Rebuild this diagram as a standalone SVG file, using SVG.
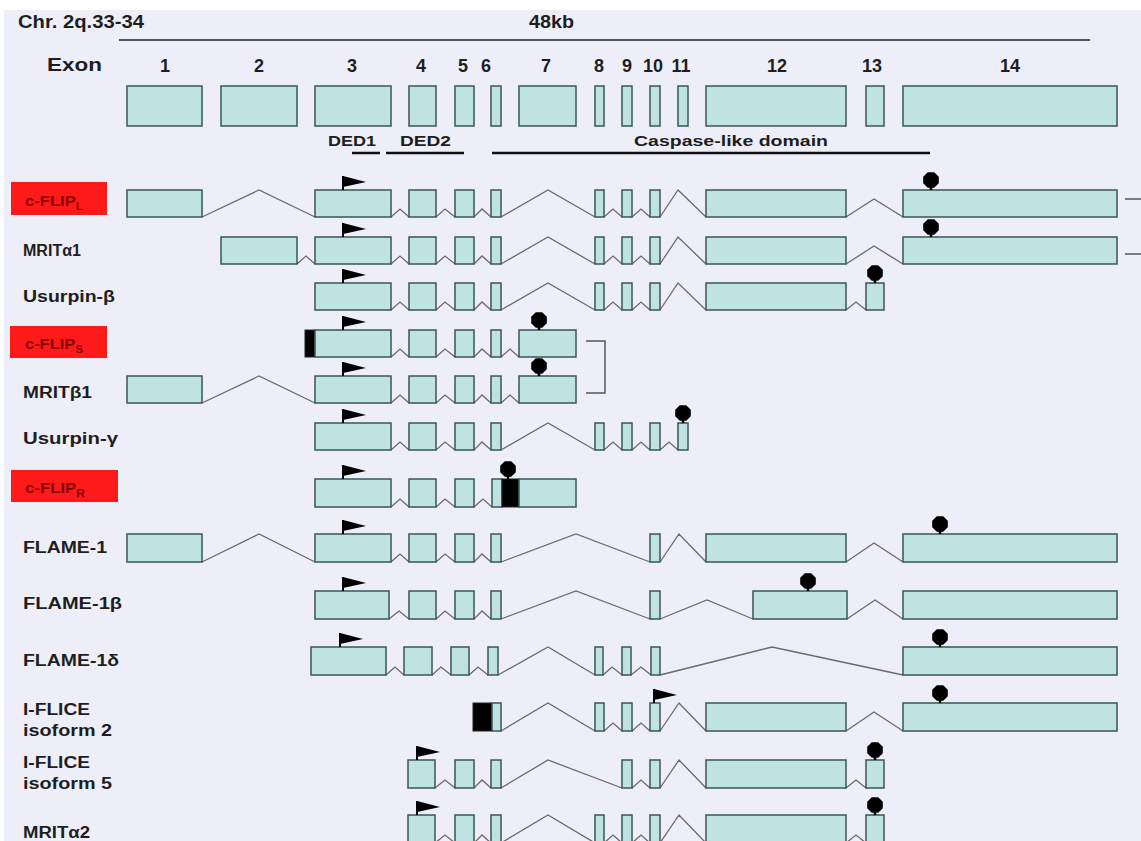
<svg xmlns="http://www.w3.org/2000/svg" width="1141" height="841" viewBox="0 0 1141 841">
<style>
.ex{fill:#bfe3e2;stroke:#3b5656;stroke-width:1.5}
.bk{fill:#000;stroke:#222;stroke-width:1}
.in{fill:none;stroke:#6a6a6a;stroke-width:1.3;stroke-linejoin:miter}
.t{font-family:"Liberation Sans",Arial,sans-serif;font-weight:bold;fill:#1e1e1e}
.hd{font-size:19px}
.num{font-size:18px;text-anchor:middle}
.dom{font-size:15px}
.lb{font-size:16px}
.red{fill:#ff1a1a}
.rt{font-family:"Liberation Sans",Arial,sans-serif;font-weight:bold;fill:#8a0000;font-size:14px}
.rs{font-size:10px}
.ln{stroke:#555;stroke-width:2;fill:none}
.dl{stroke:#111;stroke-width:2.5;fill:none}
.br{stroke:#555;stroke-width:1.5;fill:none}
</style>
<defs>
<g id="flag"><line x1="0" y1="0" x2="0" y2="-14" stroke="#000" stroke-width="2"/><path d="M0,-14 L23,-8 L0,-3 Z" fill="#000"/></g>
<g id="stop"><line x1="0" y1="-3" x2="0" y2="0" stroke="#000" stroke-width="2.5"/><polygon transform="translate(0,-10)" points="3.2,-7.8 7.8,-3.2 7.8,3.2 3.2,7.8 -3.2,7.8 -7.8,3.2 -7.8,-3.2 -3.2,-7.8" fill="#000"/></g>
</defs>
<rect x="0" y="0" width="1141" height="841" fill="#ffffff"/>
<rect x="4" y="10" width="1137" height="831" fill="#eeeef8"/>

<g id="header">
<text class="t hd" x="18" y="28" textLength="126" lengthAdjust="spacingAndGlyphs">Chr. 2q.33-34</text>
<text class="t hd" x="529" y="28" textLength="45" lengthAdjust="spacingAndGlyphs">48kb</text>
<line class="ln" x1="119" y1="40" x2="1090" y2="40"/>
<text class="t hd" x="47" y="71" textLength="55" lengthAdjust="spacingAndGlyphs">Exon</text>
<text class="t num" x="165" y="72">1</text>
<text class="t num" x="259" y="72">2</text>
<text class="t num" x="352" y="72">3</text>
<text class="t num" x="421" y="72">4</text>
<text class="t num" x="463" y="72">5</text>
<text class="t num" x="486" y="72">6</text>
<text class="t num" x="546" y="72">7</text>
<text class="t num" x="599" y="72">8</text>
<text class="t num" x="627" y="72">9</text>
<text class="t num" x="653" y="72">10</text>
<text class="t num" x="681" y="72">11</text>
<text class="t num" x="777" y="72">12</text>
<text class="t num" x="872" y="72">13</text>
<text class="t num" x="1010" y="72">14</text>
</g>

<g id="exon-map">
<rect class="ex" x="127" y="86" width="75" height="40"/>
<rect class="ex" x="221" y="86" width="76" height="40"/>
<rect class="ex" x="315" y="86" width="76" height="40"/>
<rect class="ex" x="409" y="86" width="27" height="40"/>
<rect class="ex" x="455" y="86" width="19" height="40"/>
<rect class="ex" x="491" y="86" width="10" height="40"/>
<rect class="ex" x="519" y="86" width="57" height="40"/>
<rect class="ex" x="595" y="86" width="9" height="40"/>
<rect class="ex" x="622" y="86" width="10" height="40"/>
<rect class="ex" x="650" y="86" width="10" height="40"/>
<rect class="ex" x="678" y="86" width="10" height="40"/>
<rect class="ex" x="706" y="86" width="140" height="40"/>
<rect class="ex" x="866" y="86" width="18" height="40"/>
<rect class="ex" x="903" y="86" width="214" height="40"/>
</g>

<g id="domains">
<text class="t dom" x="328" y="146" textLength="48" lengthAdjust="spacingAndGlyphs">DED1</text>
<text class="t dom" x="400" y="146" textLength="51" lengthAdjust="spacingAndGlyphs">DED2</text>
<text class="t dom" x="634" y="146" textLength="194" lengthAdjust="spacingAndGlyphs">Caspase-like domain</text>
<line class="dl" x1="352" y1="153" x2="380" y2="153"/>
<line class="dl" x1="386" y1="153" x2="464" y2="153"/>
<line class="dl" x1="492" y1="153" x2="930" y2="153"/>
</g>

<g id="connectors">
<path class="in" d="M202,217 L259,190 L315,217 M391,217 L400,209 L409,217 M436,217 L445,209 L455,217 M474,217 L482,209 L491,217 M501,217 L548,190 L595,217 M604,217 L613,209 L622,217 M632,217 L641,209 L650,217 M660,217 L678,190 L706,217 M846,217 L874,199 L903,217"/>
<path class="in" d="M297,264 L306,256 L315,264 M391,264 L400,256 L409,264 M436,264 L445,256 L455,264 M474,264 L482,256 L491,264 M501,264 L548,237 L595,264 M604,264 L613,256 L622,264 M632,264 L641,256 L650,264 M660,264 L678,237 L706,264 M846,264 L874,246 L903,264"/>
<path class="in" d="M391,310 L400,302 L409,310 M436,310 L445,302 L455,310 M474,310 L482,302 L491,310 M501,310 L548,283 L595,310 M604,310 L613,302 L622,310 M632,310 L641,302 L650,310 M660,310 L678,283 L706,310 M846,310 L856,302 L866,310"/>
<path class="in" d="M391,357 L400,349 L409,357 M436,357 L445,349 L455,357 M474,357 L482,349 L491,357 M501,357 L510,349 L519,357"/>
<path class="in" d="M202,403 L259,376 L315,403 M391,403 L400,395 L409,403 M436,403 L445,395 L455,403 M474,403 L482,395 L491,403 M501,403 L510,395 L519,403"/>
<path class="in" d="M391,450 L400,442 L409,450 M436,450 L445,442 L455,450 M474,450 L482,442 L491,450 M501,450 L548,423 L595,450 M604,450 L613,442 L622,450 M632,450 L641,442 L650,450 M660,450 L669,442 L678,450"/>
<path class="in" d="M391,507 L400,499 L409,507 M436,507 L445,499 L455,507 M474,507 L483,499 L492,507"/>
<path class="in" d="M202,562 L259,534 L315,562 M391,562 L400,554 L409,562 M436,562 L445,554 L455,562 M474,562 L482,554 L491,562 M501,562 L576,534 L650,562 M660,562 L679,534 L706,562 M846,562 L874,543 L903,562"/>
<path class="in" d="M389,619 L399,611 L409,619 M436,619 L445,611 L455,619 M474,619 L482,611 L491,619 M501,619 L576,591 L650,619 M660,619 L707,600 L753,619 M847,619 L875,600 L903,619"/>
<path class="in" d="M386,675 L395,667 L404,675 M432,675 L441,667 L451,675 M469,675 L478,667 L488,675 M498,675 L548,647 L595,675 M603,675 L612,667 L622,675 M631,675 L641,667 L651,675 M660,675 L772,647 L903,675"/>
<path class="in" d="M501,731 L548,703 L595,731 M604,731 L613,723 L622,731 M632,731 L641,723 L650,731 M660,731 L679,703 L706,731 M846,731 L874,712 L903,731"/>
<path class="in" d="M435,788 L445,780 L455,788 M474,788 L482,780 L491,788 M501,788 L548,760 L622,788 M632,788 L641,780 L650,788 M660,788 L679,760 L706,788 M846,788 L856,780 L866,788"/>
<path class="in" d="M435,843 L445,835 L455,843 M474,843 L482,835 L491,843 M501,843 L548,815 L595,843 M604,843 L613,835 L622,843 M632,843 L641,835 L650,843 M660,843 L679,815 L706,843 M846,843 L856,835 L866,843"/>
<path class="br" d="M1125,199 H1141 M1125,254 H1141"/>
<path class="br" d="M586,341 H605 V393 H586"/>
</g>

<g id="row-cFLIPL">
<rect class="red" x="11" y="182" width="96" height="33"/>
<text class="rt" x="25" y="206" textLength="58" lengthAdjust="spacingAndGlyphs">c-FLIP<tspan class="rs" dy="4">L</tspan></text>
<rect class="ex" x="127" y="190" width="75" height="27"/>
<rect class="ex" x="315" y="190" width="76" height="27"/>
<rect class="ex" x="409" y="190" width="27" height="27"/>
<rect class="ex" x="455" y="190" width="19" height="27"/>
<rect class="ex" x="491" y="190" width="10" height="27"/>
<rect class="ex" x="595" y="190" width="9" height="27"/>
<rect class="ex" x="622" y="190" width="10" height="27"/>
<rect class="ex" x="650" y="190" width="10" height="27"/>
<rect class="ex" x="706" y="190" width="140" height="27"/>
<rect class="ex" x="903" y="190" width="214" height="27"/>
<use href="#flag" x="343" y="190"/>
<use href="#stop" x="931" y="190"/>
</g>

<g id="row-MRITa1">
<text class="t lb" x="23" y="256" textLength="58" lengthAdjust="spacingAndGlyphs">MRITα1</text>
<rect class="ex" x="221" y="237" width="76" height="27"/>
<rect class="ex" x="315" y="237" width="76" height="27"/>
<rect class="ex" x="409" y="237" width="27" height="27"/>
<rect class="ex" x="455" y="237" width="19" height="27"/>
<rect class="ex" x="491" y="237" width="10" height="27"/>
<rect class="ex" x="595" y="237" width="9" height="27"/>
<rect class="ex" x="622" y="237" width="10" height="27"/>
<rect class="ex" x="650" y="237" width="10" height="27"/>
<rect class="ex" x="706" y="237" width="140" height="27"/>
<rect class="ex" x="903" y="237" width="214" height="27"/>
<use href="#flag" x="343" y="237"/>
<use href="#stop" x="931" y="237"/>
</g>

<g id="row-UsurpinB">
<text class="t lb" x="23" y="302" textLength="92" lengthAdjust="spacingAndGlyphs">Usurpin-β</text>
<rect class="ex" x="315" y="283" width="76" height="27"/>
<rect class="ex" x="409" y="283" width="27" height="27"/>
<rect class="ex" x="455" y="283" width="19" height="27"/>
<rect class="ex" x="491" y="283" width="10" height="27"/>
<rect class="ex" x="595" y="283" width="9" height="27"/>
<rect class="ex" x="622" y="283" width="10" height="27"/>
<rect class="ex" x="650" y="283" width="10" height="27"/>
<rect class="ex" x="706" y="283" width="140" height="27"/>
<rect class="ex" x="866" y="283" width="18" height="27"/>
<use href="#flag" x="343" y="283"/>
<use href="#stop" x="875" y="283"/>
</g>

<g id="row-cFLIPS">
<rect class="red" x="10" y="326" width="97" height="32"/>
<text class="rt" x="25" y="349" textLength="58" lengthAdjust="spacingAndGlyphs">c-FLIP<tspan class="rs" dy="4">S</tspan></text>
<rect class="bk" x="305" y="330" width="10" height="27"/>
<rect class="ex" x="315" y="330" width="76" height="27"/>
<rect class="ex" x="409" y="330" width="27" height="27"/>
<rect class="ex" x="455" y="330" width="19" height="27"/>
<rect class="ex" x="491" y="330" width="10" height="27"/>
<rect class="ex" x="519" y="330" width="57" height="27"/>
<use href="#flag" x="343" y="330"/>
<use href="#stop" x="539" y="330"/>
</g>

<g id="row-MRITb1">
<text class="t lb" x="23" y="398" textLength="69" lengthAdjust="spacingAndGlyphs">MRITβ1</text>
<rect class="ex" x="127" y="376" width="75" height="27"/>
<rect class="ex" x="315" y="376" width="76" height="27"/>
<rect class="ex" x="409" y="376" width="27" height="27"/>
<rect class="ex" x="455" y="376" width="19" height="27"/>
<rect class="ex" x="491" y="376" width="10" height="27"/>
<rect class="ex" x="519" y="376" width="57" height="27"/>
<use href="#flag" x="343" y="376"/>
<use href="#stop" x="539" y="376"/>
</g>

<g id="row-UsurpinG">
<text class="t lb" x="23" y="444" textLength="95" lengthAdjust="spacingAndGlyphs">Usurpin-γ</text>
<rect class="ex" x="315" y="423" width="76" height="27"/>
<rect class="ex" x="409" y="423" width="27" height="27"/>
<rect class="ex" x="455" y="423" width="19" height="27"/>
<rect class="ex" x="491" y="423" width="10" height="27"/>
<rect class="ex" x="595" y="423" width="9" height="27"/>
<rect class="ex" x="622" y="423" width="10" height="27"/>
<rect class="ex" x="650" y="423" width="10" height="27"/>
<rect class="ex" x="678" y="423" width="10" height="27"/>
<use href="#flag" x="343" y="423"/>
<use href="#stop" x="683" y="423"/>
</g>

<g id="row-cFLIPR">
<rect class="red" x="11" y="470" width="107" height="32"/>
<text class="rt" x="25" y="493" textLength="60" lengthAdjust="spacingAndGlyphs">c-FLIP<tspan class="rs" dy="4">R</tspan></text>
<rect class="ex" x="315" y="479" width="76" height="28"/>
<rect class="ex" x="409" y="479" width="27" height="28"/>
<rect class="ex" x="455" y="479" width="19" height="28"/>
<rect class="ex" x="492" y="479" width="10" height="28"/>
<rect class="bk" x="502" y="479" width="17" height="28"/>
<rect class="ex" x="519" y="479" width="57" height="28"/>
<use href="#flag" x="343" y="479"/>
<use href="#stop" x="508" y="479"/>
</g>

<g id="row-FLAME1">
<text class="t lb" x="23" y="553" textLength="84" lengthAdjust="spacingAndGlyphs">FLAME-1</text>
<rect class="ex" x="127" y="534" width="75" height="28"/>
<rect class="ex" x="315" y="534" width="76" height="28"/>
<rect class="ex" x="409" y="534" width="27" height="28"/>
<rect class="ex" x="455" y="534" width="19" height="28"/>
<rect class="ex" x="491" y="534" width="10" height="28"/>
<rect class="ex" x="650" y="534" width="10" height="28"/>
<rect class="ex" x="706" y="534" width="140" height="28"/>
<rect class="ex" x="903" y="534" width="214" height="28"/>
<use href="#flag" x="343" y="534"/>
<use href="#stop" x="940" y="534"/>
</g>

<g id="row-FLAME1b">
<text class="t lb" x="23" y="609" textLength="99" lengthAdjust="spacingAndGlyphs">FLAME-1β</text>
<rect class="ex" x="315" y="591" width="74" height="28"/>
<rect class="ex" x="409" y="591" width="27" height="28"/>
<rect class="ex" x="455" y="591" width="19" height="28"/>
<rect class="ex" x="491" y="591" width="10" height="28"/>
<rect class="ex" x="650" y="591" width="10" height="28"/>
<rect class="ex" x="753" y="591" width="94" height="28"/>
<rect class="ex" x="903" y="591" width="214" height="28"/>
<use href="#flag" x="343" y="591"/>
<use href="#stop" x="808" y="591"/>
</g>

<g id="row-FLAME1d">
<text class="t lb" x="23" y="666" textLength="96" lengthAdjust="spacingAndGlyphs">FLAME-1δ</text>
<rect class="ex" x="311" y="647" width="75" height="28"/>
<rect class="ex" x="404" y="647" width="28" height="28"/>
<rect class="ex" x="451" y="647" width="18" height="28"/>
<rect class="ex" x="488" y="647" width="10" height="28"/>
<rect class="ex" x="595" y="647" width="8" height="28"/>
<rect class="ex" x="622" y="647" width="9" height="28"/>
<rect class="ex" x="651" y="647" width="9" height="28"/>
<rect class="ex" x="903" y="647" width="214" height="28"/>
<use href="#flag" x="340" y="647"/>
<use href="#stop" x="940" y="647"/>
</g>

<g id="row-IFLICE2">
<text class="t lb" x="23" y="715" textLength="67" lengthAdjust="spacingAndGlyphs">I-FLICE</text>
<text class="t lb" x="23" y="736" textLength="89" lengthAdjust="spacingAndGlyphs">isoform 2</text>
<rect class="bk" x="473" y="703" width="19" height="28"/>
<rect class="ex" x="492" y="703" width="9" height="28"/>
<rect class="ex" x="595" y="703" width="9" height="28"/>
<rect class="ex" x="622" y="703" width="10" height="28"/>
<rect class="ex" x="650" y="703" width="10" height="28"/>
<rect class="ex" x="706" y="703" width="140" height="28"/>
<rect class="ex" x="903" y="703" width="214" height="28"/>
<use href="#flag" x="654" y="703"/>
<use href="#stop" x="940" y="703"/>
</g>

<g id="row-IFLICE5">
<text class="t lb" x="23" y="768" textLength="67" lengthAdjust="spacingAndGlyphs">I-FLICE</text>
<text class="t lb" x="23" y="789" textLength="89" lengthAdjust="spacingAndGlyphs">isoform 5</text>
<rect class="ex" x="408" y="760" width="27" height="28"/>
<rect class="ex" x="455" y="760" width="19" height="28"/>
<rect class="ex" x="491" y="760" width="10" height="28"/>
<rect class="ex" x="622" y="760" width="10" height="28"/>
<rect class="ex" x="650" y="760" width="10" height="28"/>
<rect class="ex" x="706" y="760" width="140" height="28"/>
<rect class="ex" x="866" y="760" width="18" height="28"/>
<use href="#flag" x="417" y="760"/>
<use href="#stop" x="875" y="760"/>
</g>

<g id="row-MRITa2">
<text class="t lb" x="23" y="838" textLength="67" lengthAdjust="spacingAndGlyphs">MRITα2</text>
<rect class="ex" x="408" y="815" width="27" height="30"/>
<rect class="ex" x="455" y="815" width="19" height="30"/>
<rect class="ex" x="491" y="815" width="10" height="30"/>
<rect class="ex" x="595" y="815" width="9" height="30"/>
<rect class="ex" x="622" y="815" width="10" height="30"/>
<rect class="ex" x="650" y="815" width="10" height="30"/>
<rect class="ex" x="706" y="815" width="140" height="30"/>
<rect class="ex" x="866" y="815" width="18" height="30"/>
<use href="#flag" x="417" y="815"/>
<use href="#stop" x="875" y="815"/>
</g>
</svg>
